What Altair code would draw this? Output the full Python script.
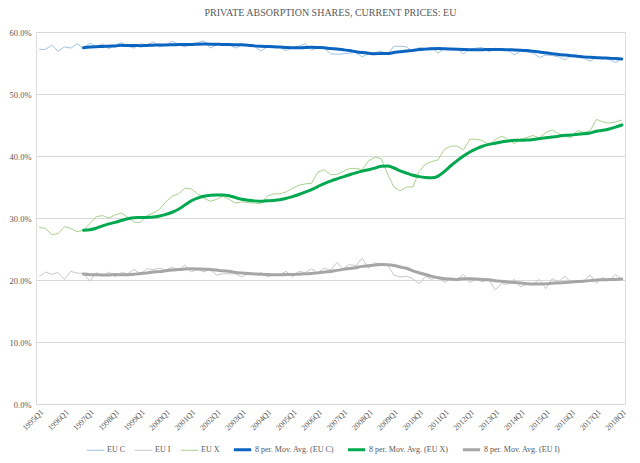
import altair as alt
import pandas as pd

years = list(range(1995, 2019))
quarters = [f"{y}Q{q}" for y in years for q in range(1, 5)][:93]

eu_c = [57.2, 57.2, 57.9, 56.9, 57.6, 57.4, 58.1, 57.4,
        58.2, 57.6, 58.1, 57.3, 57.9, 58.3, 57.7, 57.4,
        58.1, 57.9, 58.4, 57.6, 57.9, 58.5, 58.0, 57.6,
        58.0, 58.3, 58.6, 57.4, 57.9, 58.0, 58.0, 57.4,
        57.9, 57.8, 57.7, 56.9, 57.6, 57.7, 57.5, 57.0,
        57.5, 57.7, 58.1, 57.1, 57.4, 57.4, 56.5, 56.4,
        56.5, 56.6, 56.7, 56.0, 56.5, 56.7, 56.9, 56.4,
        57.7, 57.7, 57.6, 56.8, 57.5, 57.3, 57.5, 56.6,
        57.4, 57.3, 57.3, 56.5, 57.2, 57.4, 57.5, 56.8,
        57.4, 57.2, 57.1, 56.3, 56.9, 56.8, 56.6, 55.9,
        56.3, 56.2, 56.0, 55.5, 56.2, 56.0, 55.8, 55.3,
        55.9, 55.8, 55.6, 55.1, 55.7]

eu_i = [20.5, 21.3, 20.9, 21.2, 20.1, 21.4, 21.1, 21.1,
        19.8, 21.2, 20.6, 21.3, 20.5, 21.2, 21.0, 21.7,
        21.0, 21.8, 21.7, 21.9, 21.6, 22.1, 21.6, 22.4,
        21.3, 21.7, 21.3, 21.7, 20.8, 21.0, 21.0, 21.0,
        20.5, 21.0, 20.8, 21.2, 20.5, 20.8, 20.9, 21.4,
        20.5, 21.4, 21.2, 21.8, 21.2, 21.9, 21.6, 22.8,
        21.8, 22.5, 22.3, 23.5, 21.9, 22.8, 22.5, 22.5,
        20.8, 20.5, 20.6, 20.2, 19.4, 20.6, 20.1, 20.6,
        19.6, 20.2, 20.1, 20.9, 19.6, 20.1, 19.7, 20.1,
        18.4, 19.4, 19.3, 20.1, 18.9, 19.3, 19.3, 20.1,
        18.6, 20.2, 19.7, 20.6, 19.6, 19.9, 19.8, 20.8,
        19.5, 20.4, 19.9, 20.9, 20.1]

eu_x = [28.5, 28.3, 27.3, 27.5, 28.6, 28.3, 27.8, 28.0,
        29.1, 30.2, 30.4, 30.0, 30.5, 30.8, 30.1, 29.3,
        29.3, 30.4, 30.8, 31.4, 32.6, 33.5, 33.9, 34.8,
        34.7, 33.9, 33.2, 32.7, 33.0, 33.5, 33.0, 32.4,
        32.6, 32.5, 32.4, 32.3, 33.5, 33.9, 33.9, 34.2,
        34.8, 35.3, 35.5, 35.6, 37.4, 37.8, 37.0, 37.0,
        37.5, 38.0, 38.0, 37.8, 39.2, 39.8, 39.6, 37.1,
        35.0, 34.4, 35.0, 35.0, 37.5, 38.7, 39.1, 39.4,
        41.1, 41.6, 41.6, 41.0, 42.7, 42.7, 42.5, 41.8,
        42.6, 43.2, 42.7, 42.0, 42.7, 43.0, 43.3, 42.9,
        43.8, 44.2, 43.6, 43.2, 43.0, 44.1, 43.8, 44.1,
        45.9, 45.5, 45.3, 45.5, 45.8]

series_names = ["EU C", "EU I", "EU X"]
legend_order = ["EU C", "EU I", "EU X",
                "8 per. Mov. Avg. (EU C)", "8 per. Mov. Avg. (EU X)", "8 per. Mov. Avg. (EU I)"]
colors = ["#9dc3e6", "#c8c8c8", "#a9d18e", "#0a64c0", "#00a94f", "#a6a6a6"]
widths = [1, 1, 1, 3.0, 3.0, 3.0]

rows = []
for name, vals in zip(series_names, [eu_c, eu_i, eu_x]):
    for i, (q, v) in enumerate(zip(quarters, vals)):
        rows.append({"idx": i, "quarter": q, "series": name, "value": v})
df = pd.DataFrame(rows)

FONT = "Liberation Serif"
GREY = "#595959"

x_enc = alt.X("quarter:O", title=None,
              scale=alt.Scale(type="point", padding=0.5),
              axis=alt.Axis(labelExpr="indexof(datum.value, 'Q1') > 0 ? datum.value : ''",
                            labelAngle=-45, labelFont=FONT, labelFontSize=8,
                            labelColor=GREY, ticks=False, domain=False, grid=False,
                            labelPadding=4, labelOverlap=False))
y_enc = alt.Y("value:Q", title=None,
              scale=alt.Scale(domain=[0, 60], nice=False),
              axis=alt.Axis(values=list(range(0, 61, 5)),
                            labelExpr="format(datum.value, '.1f') + '%'",
                            labelFont=FONT, labelFontSize=8.5, labelColor=GREY,
                            ticks=False, domain=False, gridColor="#d9d9d9",
                            gridWidth=1, labelPadding=5, minExtent=28, maxExtent=28))
color_enc = alt.Color("series:N", title=None,
                      scale=alt.Scale(domain=legend_order, range=colors),
                      legend=alt.Legend(orient="none", direction="horizontal",
                                        legendX=50, legendY=407,
                                        symbolType="stroke", symbolSize=300,
                                        labelFont=FONT, labelFontSize=8,
                                        labelColor=GREY, columnPadding=7,
                                        labelOffset=2))
width_enc = alt.StrokeWidth("series:N", title=None,
                            scale=alt.Scale(type="ordinal", domain=legend_order, range=widths))

base = alt.Chart(df)

raw = base.mark_line().encode(
    x=x_enc, y=y_enc, color=color_enc, strokeWidth=width_enc,
    order="idx:Q")

ma = base.transform_window(
    ma="mean(value)", n="count()", frame=[-7, 0],
    groupby=["series"], sort=[alt.SortField("idx")]
).transform_filter("datum.n == 8").transform_calculate(
    series="'8 per. Mov. Avg. (' + datum.series + ')'"
).mark_line(interpolate="monotone", strokeCap="round").encode(
    x=x_enc, y=alt.Y("ma:Q", scale=alt.Scale(domain=[0, 60], nice=False)),
    color=color_enc, strokeWidth=width_enc, order="idx:Q")

chart = alt.layer(raw, ma).properties(
    width=589, height=372,
    padding={"left": 0, "top": 0, "right": 0, "bottom": 0},
    title=alt.Title("PRIVATE ABSORPTION SHARES, CURRENT PRICES: EU",
                    font=FONT, fontSize=10, fontWeight="normal",
                    color=GREY, offset=10, anchor="middle"),
).configure_view(stroke=None).configure(background="white")

chart.save("out.html", embed_options={"renderer": "svg", "actions": False})
